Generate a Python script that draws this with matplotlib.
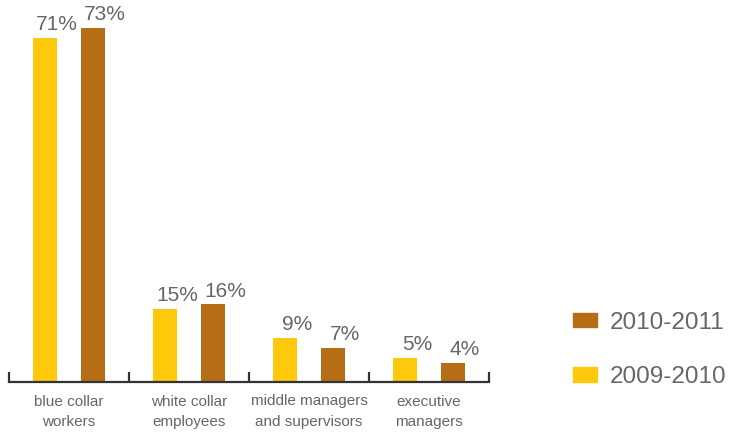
import matplotlib.pyplot as plt
from matplotlib.patches import Patch

categories = ["blue collar\nworkers", "white collar\nemployees",
              "middle managers\nand supervisors", "executive\nmanagers"]
share_2009 = [71, 15, 9, 5]
share_2010 = [73, 16, 7, 4]
series_names = ["2009-2010", "2010-2011"]

yellow = "#FEC80B"
brown = "#B66D15"
grey_text = "#666666"

plt.rcParams["font.family"] = ["Liberation Sans", "DejaVu Sans"]

fig = plt.figure(figsize=(7.3, 4.34), dpi=100)
# axis line sits ~52px above the bottom edge, spans 9..489 px
ax = fig.add_axes([9 / 730, 52 / 434, 480 / 730, 382 / 434])

w = 0.2
centers = [i + 0.5 for i in range(len(categories))]
for i, c in enumerate(centers):
    for x, val, col in ((c - w, share_2009[i], yellow), (c + w, share_2010[i], brown)):
        ax.bar(x, val, width=w, color=col, linewidth=0)
        ax.text(x + w / 2, val + 0.8, f"{val}%", ha="center", va="bottom",
                fontsize=15, color=grey_text)

ax.set_xlim(0, len(categories))
ax.set_ylim(0, 382 / 4.85)

for s in ("top", "right", "left"):
    ax.spines[s].set_visible(False)
ax.spines["bottom"].set_color("#333333")
ax.spines["bottom"].set_linewidth(1.6)
ax.set_yticks([])

ax.set_xticks(range(len(categories) + 1))
ax.set_xticklabels([])
ax.tick_params(axis="x", which="major", direction="in", length=7.5, width=1.6, color="#333333")
ax.set_xticks(centers, minor=True)
ax.set_xticklabels(categories, minor=True, fontsize=11, color=grey_text, linespacing=1.6)
ax.tick_params(axis="x", which="minor", length=0, pad=9)

handles = [Patch(color=brown, label=series_names[1]), Patch(color=yellow, label=series_names[0])]
fig.legend(handles=handles, loc="center left", bbox_to_anchor=(561 / 730, 1 - 350 / 434),
           frameon=False, fontsize=17.5, labelcolor=grey_text, handlelength=1.0,
           handleheight=0.55, handletextpad=0.5, labelspacing=1.35, borderpad=0)

fig.savefig("out.png", dpi=100)
